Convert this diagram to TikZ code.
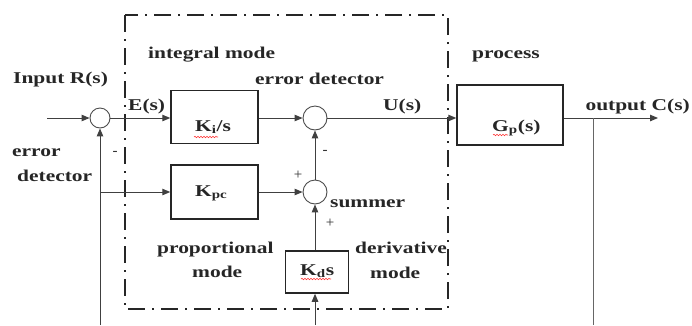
\documentclass[tikz,border=0pt]{standalone}
\usepackage{fontspec}
\usepackage{graphicx}
\setmainfont{Liberation Serif}
\usetikzlibrary{arrows.meta,decorations.pathmorphing}
\newcommand{\wtxt}[1]{\scalebox{1.3}[1]{\fontsize{16.5}{18}\selectfont\bfseries #1}}
\tikzset{
  blk/.style={draw=black!85, line width=1.5pt, minimum width=87pt, minimum height=53pt, inner sep=0pt},
  sumc/.style={draw=black!70, line width=0.9pt, circle, inner sep=0pt, minimum size=#1},
  lbl/.style={inner sep=0pt, anchor=base west, text=black!85},
  sgn/.style={inner sep=0pt, text=black!80, font=\fontsize{15}{16}\selectfont},
  conn/.style={draw=black!75, line width=1pt, -{Triangle[length=8pt,width=6.5pt]}},
  plainln/.style={draw=black!60, line width=1pt},
  ddot/.style={draw=black!85, line width=2pt, dash pattern=on 17pt off 7pt on 2pt off 7pt},
  squig/.style={draw=red!80, line width=0.6pt, decorate, decoration={snake, amplitude=0.7pt, segment length=3pt}}
}
\begin{document}
\begin{tikzpicture}[x=1pt,y=-1pt]
\useasboundingbox (0,0) rectangle (692,325);
% dash-dot controller frame
\draw[ddot] (125,15) rectangle (448,309);

% summing junctions
\node[sumc=20pt] (s1) at (100,118) {};
\node[sumc=24pt] (s2) at (315,118) {};
\node[sumc=24pt] (s3) at (315,192) {};

% blocks
\node[blk] (ki) at (214.5,117) {};
\node[blk, minimum height=54pt] (kpc) at (214.5,192) {};
\node[blk, minimum width=106pt, minimum height=60pt] (gp) at (510,115) {};
\node[blk, minimum width=63pt, minimum height=42pt] (kd) at (317,272) {};

% block texts
\node[lbl] (tki) at (195,131) {\wtxt{K\textsubscript{i}/s}};
\node[lbl] (tkpc) at (195,196) {\wtxt{K\textsubscript{pc}}};
\node[lbl] (tgp) at (492,131) {\wtxt{G\textsubscript{p}(s)}};
\node[lbl] (tkd) at (300,275) {\wtxt{K\textsubscript{d}s}};
\draw[squig] (194,137) -- (218,137);
\draw[squig] (493,135) -- (508,135);
\draw[squig] (301,279) -- (331,279);

% coordinates for free ends
\coordinate (in) at (47,118);
\coordinate (out) at (658,118);
\coordinate (tap) at (593,118);
\coordinate (tapb) at (593,325);
\coordinate (fbb) at (100,325);
\coordinate (br) at (100,192);
\coordinate (kdb) at (315,325);

% connectors
\draw[conn] (in) -- (s1.west);
\draw[conn] (s1.east) -- (s1.east -| ki.west);
\draw[conn] (ki.east |- s2) -- (s2.west);
\draw[conn] (s2.east) -- (s2.east -| gp.west);
\draw[conn] (gp.east |- out) -- (out);
\draw[plainln] (tap) -- (tapb);
\draw[conn] (fbb) -- (s1.south);
\draw[conn] (br) -- (br -| kpc.west);
\draw[conn] (kpc.east |- s3) -- (s3.west);
\draw[conn] (s3.north) -- (s2.south);
\draw[conn] (kd.north -| s3) -- (s3.south);
\draw[conn] (kdb) -- (kdb |- kd.south);

% labels
\node[lbl] (limode) at (148,58) {\wtxt{integral mode}};
\node[lbl] (linput) at (13,83) {\wtxt{Input R(s)}};
\node[lbl] (led) at (255,84) {\wtxt{error detector}};
\node[lbl] (les) at (128,110) {\wtxt{E(s)}};
\node[lbl] (lus) at (383,110) {\wtxt{U(s)}};
\node[lbl, anchor=base east] (lout) at (690,110) {\wtxt{output C(s)}};
\node[lbl] (lproc) at (472,58) {\wtxt{process}};
\node[lbl] (lerr) at (12,156) {\wtxt{error}};
\node[lbl] (ldet) at (17,181) {\wtxt{detector}};
\node[lbl] (lprop) at (157,253) {\wtxt{proportional}};
\node[lbl] (lpmode) at (192,277) {\wtxt{mode}};
\node[lbl] (lsum) at (330,207) {\wtxt{summer}};
\node[lbl] (lderiv) at (355,253) {\wtxt{derivative}};
\node[lbl] (ldmode) at (370,278) {\wtxt{mode}};

% signs
\node[sgn] (m1) at (115,153) {-};
\node[sgn] (m2) at (325,152) {-};
\node[sgn] (p1) at (298,175) {+};
\node[sgn] (p2) at (330,223) {+};
\end{tikzpicture}
\end{document}
